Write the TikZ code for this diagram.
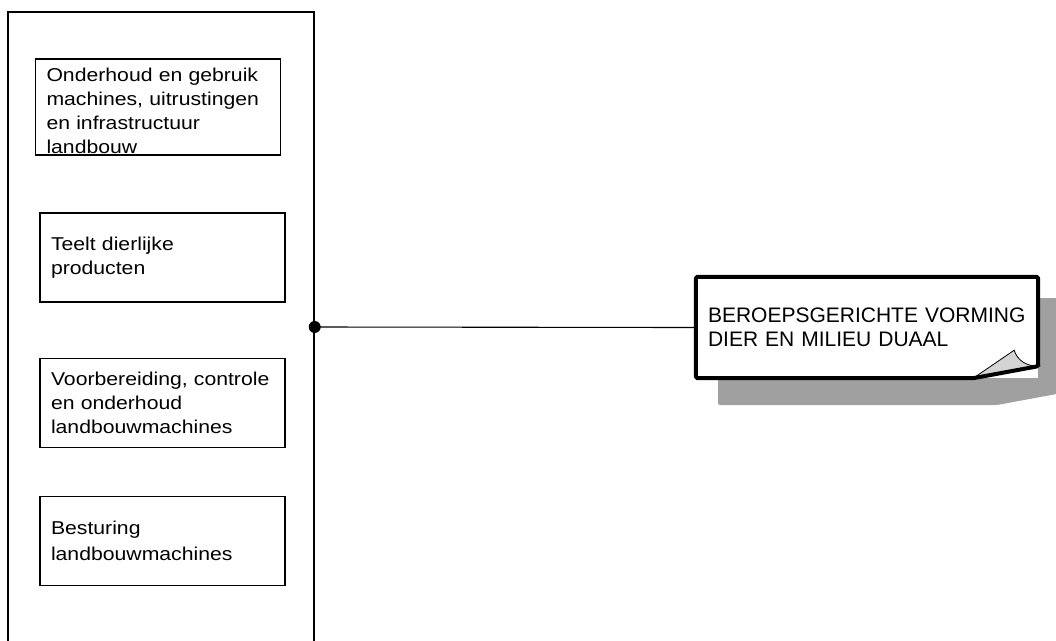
\documentclass[tikz,border=0pt]{standalone}
\usepackage{fontspec}
\setmainfont{Liberation Sans}[FakeStretch=1.14]
\newfontfamily\calloutfont{Liberation Sans}
\usetikzlibrary{calc}

\definecolor{shadowgray}{RGB}{160,160,160}
\definecolor{curlgray}{RGB}{212,212,212}

\tikzset{
  task/.style={draw, line width=1.3pt, minimum width=245, minimum height=89,
    text width=223, inner xsep=11, align=left,
    font=\fontsize{18.6}{24}\selectfont},
  callout/.style={fill=white, minimum width=342, minimum height=101,
    text width=318, inner xsep=12, align=left,
    font=\calloutfont\fontsize{21}{24}\selectfont},
}

\begin{document}
\begin{tikzpicture}[x=1pt, y=-1pt]
            \clip (0,0) rectangle (1056,640);
            % left group
            \node[draw, line width=1.4pt, minimum width=306, minimum height=630] (grp) at (161,327) {};
            \node[task, minimum width=244, minimum height=96, text height=13.5, text depth=64] (t1) at (158,107) {Onderhoud en gebruik\\machines, uitrustingen\\en infrastructuur\\landbouw};
            \node[task] (t2) at (162.5,257.5) {Teelt dierlijke\\producten};
            \node[task] (t3) at (162.5,403) {Voorbereiding, controle\\en onderhoud\\landbouwmachines};
            \node[task] (t4) at (162.5,541) {Besturing\\[2pt]landbouwmachines};

            % callout with shadow
            \fill[shadowgray, rounded corners=2pt] (718,298) -- (1062,298) -- (1062,393) -- (997,405) -- (718,405) -- cycle;
            \node[callout] (bvd) at (867,327.5) {BEROEPSGERICHTE VORMING\\DIER EN MILIEU DUAAL};
            \filldraw[fill=curlgray, line width=0.8pt] ($(bvd.south east)+(-65,0)$) -- ($(bvd.south east)+(-24,-28)$)
              .. controls ($(bvd.south east)+(-21,-18)$) and ($(bvd.south east)+(-12,-12)$) .. ($(bvd.south east)+(0,-12)$) -- cycle;
            \draw[line width=4pt, line join=round, rounded corners=1.5pt] (bvd.north west) -- (bvd.north east)
              -- ($(bvd.south east)+(0,-12)$) -- ($(bvd.south east)+(-65,0)$) -- (bvd.south west) -- cycle;

            \draw[line width=1.1pt] (grp.east) -- (bvd.west);
            \fill (grp.east) circle (6);
        \end{tikzpicture}
\end{document}
